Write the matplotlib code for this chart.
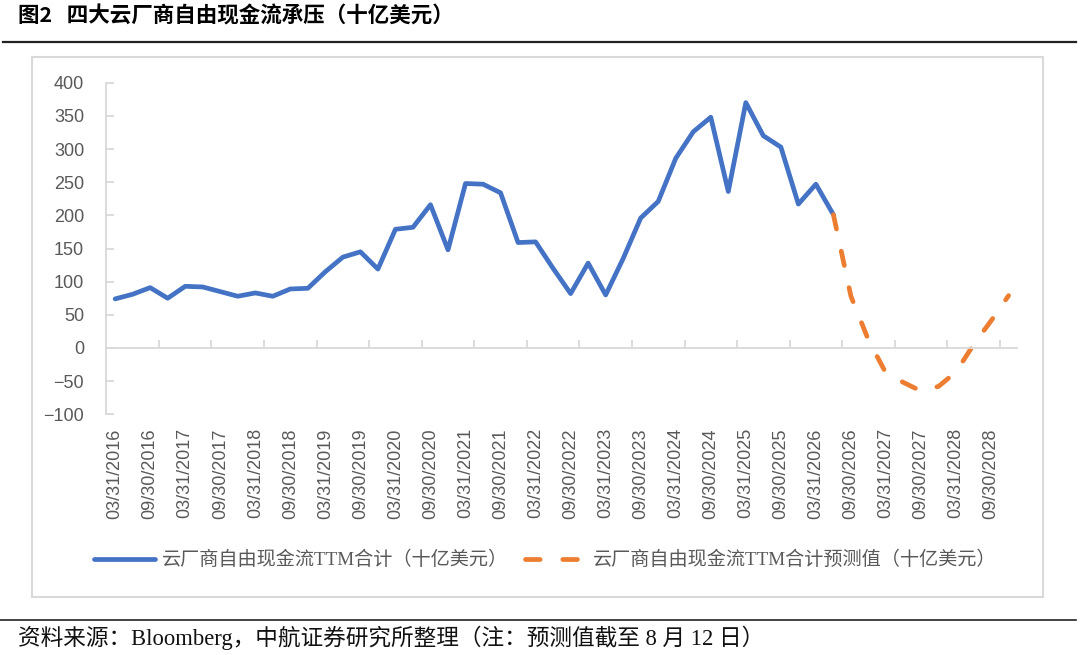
import matplotlib
matplotlib.use('Agg')
import matplotlib.pyplot as plt
from matplotlib.lines import Line2D
from matplotlib.patches import Rectangle
import numpy as np
import pandas as pd

# quarterly categories, labels every half year
quarters = pd.date_range('2016-03-31', '2028-12-31', freq='QE')
tick_labels = [d.strftime('%m/%d/%Y') for d in quarters[::2]]

# free cash flow TTM, USD bn
fcf_actual = [74, 81, 91, 75, 93, 92, 85, 78, 83, 78, 89, 90, 115, 137, 145, 119,
              179, 182, 216, 148, 248, 247, 234, 159, 160, 120, 82, 128, 80, 135,
              196, 221, 286, 326, 348, 236, 370, 320, 303, 217, 247, 201]
fcf_forecast = [201, 78, 12, -38, -52, -65, -58, -36, 5, 41, 79]

label_actual = '云厂商自由现金流TTM合计（十亿美元）'
label_forecast = '云厂商自由现金流TTM合计预测值（十亿美元）'
title = '图2   四大云厂商自由现金流承压（十亿美元）'
source = '资料来源：Bloomberg，中航证券研究所整理（注：预测值截至 8 月 12 日）'

cjk = ['Noto Sans CJK SC', 'DejaVu Sans']
mixed = ['Liberation Serif', 'Noto Sans CJK SC', 'DejaVu Sans']
num = ['Liberation Sans', 'DejaVu Sans']
grey = '#595959'
axis_grey = '#d9d9d9'

fig = plt.figure(figsize=(10.8, 6.55), dpi=100)
ax = fig.add_axes([0.0985, 0.3675, 0.8435, 0.5062])

x_act = np.arange(len(fcf_actual))
x_fc = np.arange(len(fcf_actual) - 1, len(fcf_actual) - 1 + len(fcf_forecast))
ax.plot(x_act, fcf_actual, color='#4472C4', lw=3.4, solid_capstyle='round',
        solid_joinstyle='round', label=label_actual)
ax.plot(x_fc, fcf_forecast, color='#ED7D31', lw=3.4, dashes=(3.1, 4.8),
        dash_capstyle='round', label=label_forecast)

ax.set_xlim(-0.5, len(quarters) - 0.5)
ax.set_ylim(-100, 400)
ax.set_yticks(range(-100, 401, 50))

for s in ['top', 'right']:
    ax.spines[s].set_visible(False)
ax.spines['left'].set_color(axis_grey)
ax.spines['left'].set_linewidth(1.3)
ax.spines['bottom'].set_position(('data', 0))
ax.spines['bottom'].set_color(axis_grey)
ax.spines['bottom'].set_linewidth(1.3)

ax.set_xticks(np.arange(2.5, len(quarters) - 0.5, 3))
ax.tick_params(axis='x', direction='in', length=6, width=1.3, color=axis_grey,
               labelbottom=False)
ax.tick_params(axis='y', direction='in', length=6, width=1.3, color=axis_grey,
               labelsize=13, labelcolor=grey, pad=16)
for t in ax.get_yticklabels():
    t.set_family(num)

sec = ax.secondary_xaxis(0)
sec.set_xticks(np.arange(0, len(quarters), 2), tick_labels, rotation=90)
sec.tick_params(length=0, pad=10, labelsize=13, labelcolor=grey)
sec.spines['bottom'].set_visible(False)
for t in sec.get_xticklabels():
    t.set_family(num)

fig.legend(loc='center', bbox_to_anchor=(0.505, 0.145), ncol=2, frameon=False,
           handlelength=3.2, handletextpad=0.35, columnspacing=0.9,
           prop={'family': mixed, 'size': 13.8}, labelcolor=grey)

# chart frame
fig.patches.append(Rectangle((32 / 1080, 1 - 597 / 655), 1011 / 1080, 540 / 655,
                             transform=fig.transFigure, fill=False,
                             ec=axis_grey, lw=1.5))

fig.text(18 / 1080, 1 - 16 / 655, title, family=cjk, weight='bold',
         fontsize=15.5, va='center', ha='left')
fig.lines.append(Line2D([0.003, 0.996], [1 - 41.5 / 655] * 2,
                        transform=fig.transFigure, color='#222222', lw=1.6))
fig.lines.append(Line2D([0.0, 0.996], [1 - 620 / 655] * 2,
                        transform=fig.transFigure, color='#222222', lw=1.2))
fig.text(18 / 1080, 1 - 638 / 655, source, family=mixed, fontsize=16.3,
         va='center', ha='left', color='#111111')

fig.savefig('out.png', dpi=100)
